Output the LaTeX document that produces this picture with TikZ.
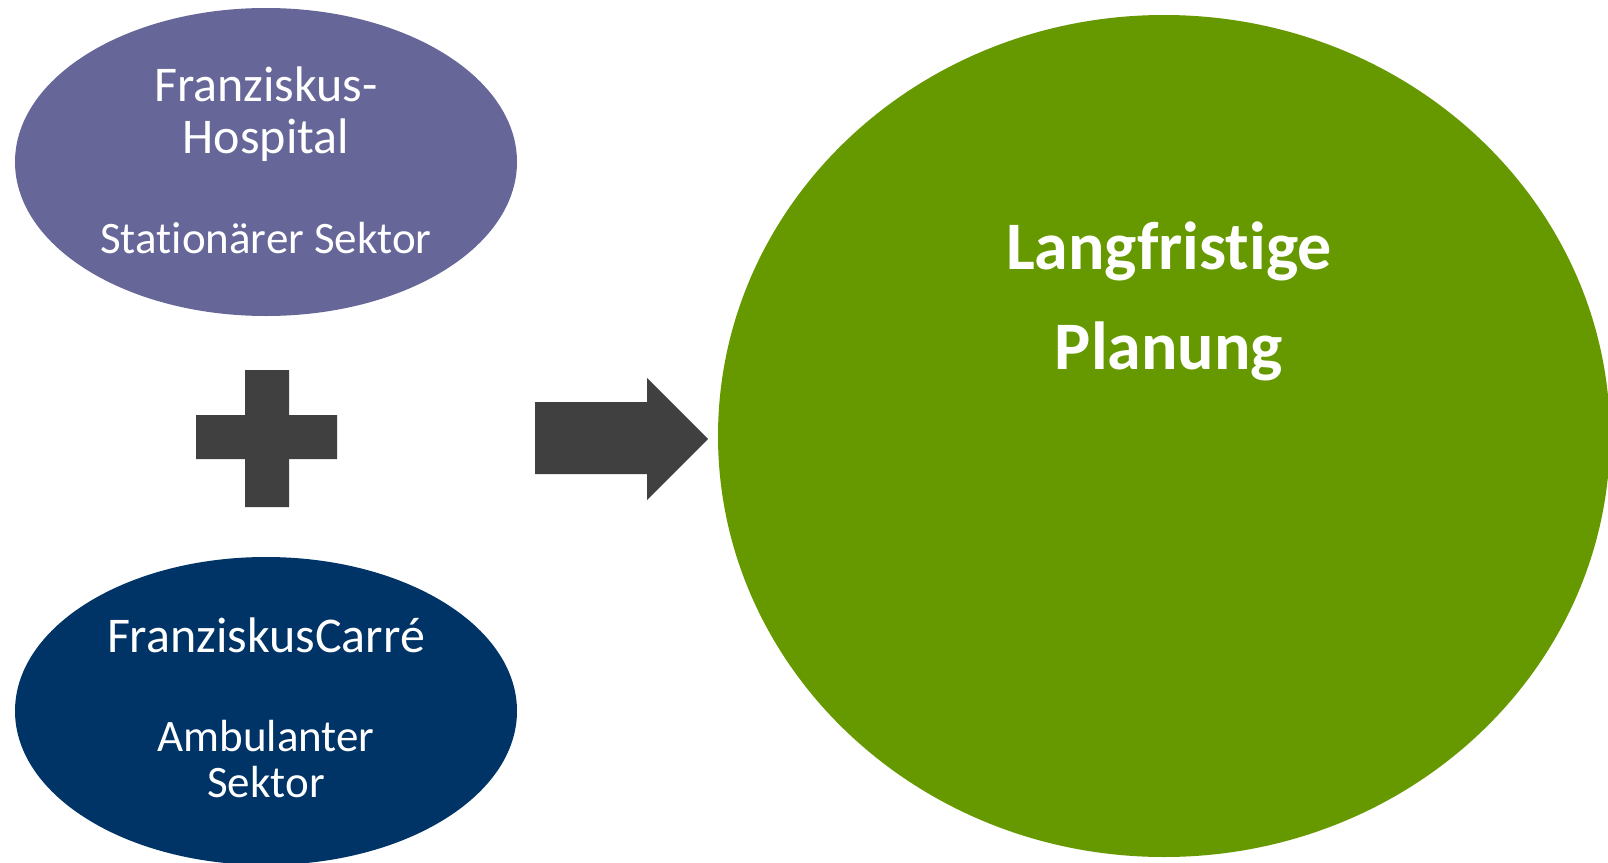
\documentclass[tikz,border=0pt]{standalone}
\usepackage{fontspec}
\setmainfont{Carlito}[Ligatures=NoCommon]
\usetikzlibrary{shapes.geometric,positioning}
\definecolor{hospital}{HTML}{666699}
\definecolor{carre}{HTML}{003366}
\definecolor{planung}{HTML}{669900}
\definecolor{zeichen}{HTML}{404040}

\begin{document}
\begin{tikzpicture}[x=1pt,y=-1pt]
  \newcommand{\ellw}{502pt}
  \newcommand{\ellh}{308pt}
  \newcommand{\klein}{\fontsize{45}{46}\selectfont}
  \useasboundingbox (0,0) rectangle (1608,862);
  \coordinate (pH) at (266,162);
  \coordinate (pC) at (266,711);
  \coordinate (pP) at (1164,436);
  \tikzstyle{sektor}=[ellipse, inner sep=0pt, minimum width=\ellw, minimum height=\ellh]
  \tikzstyle{weiss}=[anchor=base, text=white, align=center, inner sep=0pt, font=\fontsize{50}{52}\selectfont]
  \node[sektor, fill=hospital] (hospital) at (pH) {};
  \node[sektor, fill=carre] (carre) at (pC) {};
  \node[ellipse, fill=planung, inner sep=0pt, minimum width=892pt, minimum height=842pt] (planung) at (pP) {};
  \node[weiss] (hospitaltext) at ([yshift=-91pt]hospital.center)
    {Franziskus-\\Hospital\\[48pt]{\klein Stationärer Sektor}};
  \node[weiss] (carretext) at ([yshift=-86pt]carre.center)
    {FranziskusCarré\\[47pt]{\klein Ambulanter}\\[-6pt]{\klein Sektor}};
  \node[weiss, font=\fontsize{68}{100}\selectfont\bfseries] (planungtext) at ([xshift=5pt,yshift=67pt]planung.center) {Langfristige\\Planung};
  % plus
  \fill[zeichen] (245,370) rectangle (289,507) (196,415) rectangle (337,459);
  % arrow
  \fill[zeichen] (535,402) -- (647,402) -- (647,378) -- (708,439) -- (647,500) -- (647,474) -- (535,474) -- cycle;
\end{tikzpicture}
\end{document}
